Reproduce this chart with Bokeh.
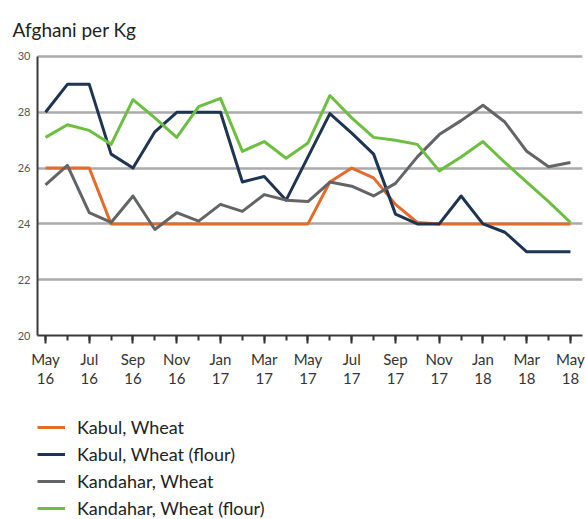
from bokeh.plotting import figure
from bokeh.layouts import column
from bokeh.models import FixedTicker, Legend, LegendItem, Range1d
from bokeh.embed import file_html
from bokeh.resources import INLINE

# Months May 2016 .. May 2018 (index 0..24)
month_idx = list(range(25))
tick_pos = [0, 2, 4, 6, 8, 10, 12, 14, 16, 18, 20, 22, 24]
tick_labels = ["May\n16", "Jul\n16", "Sep\n16", "Nov\n16", "Jan\n17", "Mar\n17",
               "May\n17", "Jul\n17", "Sep\n17", "Nov\n17", "Jan\n18", "Mar\n18", "May\n18"]
y_ticks = [20, 22, 24, 26, 28, 30]

kabul_wheat = [26, 26, 26, 24, 24, 24, 24, 24, 24, 24, 24, 24, 24,
               25.5, 26.0, 25.65, 24.7, 24.05, 24, 24, 24, 24, 24, 24, 24]
kabul_flour = [28, 29, 29, 26.5, 26, 27.3, 28, 28, 28, 25.5, 25.7, 24.85, 26.4,
               27.95, 27.25, 26.5, 24.35, 24.0, 24.0, 25.0, 24.0, 23.7, 23.0, 23.0, 23.0]
kandahar_wheat = [25.4, 26.1, 24.4, 24.05, 25.0, 23.8, 24.4, 24.1, 24.7, 24.45, 25.05, 24.85, 24.8,
                  25.5, 25.35, 25.0, 25.45, 26.4, 27.2, 27.7, 28.25, 27.65, 26.6, 26.05, 26.2]
kandahar_flour = [27.1, 27.55, 27.35, 26.85, 28.45, 27.8, 27.1, 28.2, 28.5, 26.6, 26.95, 26.35, 26.9,
                  28.6, 27.8, 27.1, 27.0, 26.85, 25.9, 26.4, 26.95, 26.2, 25.5, 24.8, 24.05]

series_names = ["Kabul, Wheat", "Kabul, Wheat (flour)", "Kandahar, Wheat", "Kandahar, Wheat (flour)"]
series_vals = [kabul_wheat, kabul_flour, kandahar_wheat, kandahar_flour]
series_colors = ["#e46c2a", "#1d3553", "#636466", "#6cbf40"]

FONT = "Lato"

p = figure(width=585, height=390, output_backend="svg", toolbar_location=None,
           x_range=Range1d(-0.366, 24.55), y_range=Range1d(20, 30.07),
           min_border_left=37, min_border_right=3, min_border_top=54, min_border_bottom=53,
           title="Afghani per Kg")
p.outline_line_color = None
p.background_fill_color = "white"
p.border_fill_color = "white"

p.title.align = "left"
p.title.vertical_align = "top"
p.title.offset = -25
p.title.standoff = 24
p.title.text_font = FONT
p.title.text_font_size = "19px"
p.title.text_font_style = "normal"
p.title.text_color = "#222222"

p.xgrid.visible = False
p.ygrid.ticker = FixedTicker(ticks=[22, 24, 26, 28, 30])
p.ygrid.grid_line_color = "#ababab"
p.ygrid.grid_line_width = 2.5

# y axis
p.yaxis.ticker = FixedTicker(ticks=y_ticks)
p.yaxis.bounds = (20, 30)
p.yaxis.major_tick_out = 0
p.yaxis.major_tick_in = 0
p.yaxis.minor_tick_out = 0
p.yaxis.minor_tick_in = 0
p.yaxis.axis_line_color = "#3a3a3a"
p.yaxis.axis_line_width = 2
p.yaxis.major_label_text_font = FONT
p.yaxis.major_label_text_font_size = "11px"
p.yaxis.major_label_text_color = "#555555"
p.yaxis.major_label_standoff = 7

# x axis
p.xaxis.ticker = FixedTicker(ticks=tick_pos, minor_ticks=month_idx)
p.xaxis.major_label_overrides = {t: l for t, l in zip(tick_pos, tick_labels)}
p.xaxis.major_tick_out = 8
p.xaxis.major_tick_in = 0
p.xaxis.minor_tick_out = 5
p.xaxis.minor_tick_in = 0
p.xaxis.major_tick_line_width = 2
p.xaxis.minor_tick_line_width = 2
p.xaxis.major_tick_line_color = "#333333"
p.xaxis.minor_tick_line_color = "#333333"
p.xaxis.axis_line_color = "#3a3a3a"
p.xaxis.axis_line_width = 2
p.xaxis.major_label_text_font = FONT
p.xaxis.major_label_text_font_size = "15px"
p.xaxis.major_label_text_color = "#333333"
p.xaxis.major_label_text_line_height = 1.1
p.xaxis.major_label_standoff = 6

for name, vals, col in zip(series_names, series_vals, series_colors):
    p.line(month_idx, vals, line_color=col, line_width=3, line_join="round")

# Legend panel below the chart
pl = figure(width=585, height=129, output_backend="svg", toolbar_location=None,
            x_range=Range1d(0, 1), y_range=Range1d(0, 1),
            x_axis_location=None, y_axis_location=None,
            min_border_left=0, min_border_right=0, min_border_top=0, min_border_bottom=0)
pl.outline_line_color = None
pl.xgrid.visible = False
pl.ygrid.visible = False
pl.background_fill_color = "white"
pl.border_fill_color = "white"

leg_renderers = []
for name, col in zip(series_names, series_colors):
    # off-range points: only the legend sample of each series is seen
    leg_renderers.append(pl.line([-5, -4], [-5, -4], line_color=col, line_width=3))

legend = Legend(items=[LegendItem(label=n, renderers=[r]) for n, r in zip(series_names, leg_renderers)],
                location=(0, 0), orientation="vertical",
                glyph_width=28, glyph_height=20, label_height=20, spacing=5,
                padding=0, margin=0, border_line_color=None, background_fill_alpha=0,
                label_text_font=FONT, label_text_font_size="18px", label_text_color="#222222",
                label_standoff=12)
pl.add_layout(legend)

layout = column(p, pl, spacing=0)
open("out.html", "w").write(file_html(layout, INLINE))
